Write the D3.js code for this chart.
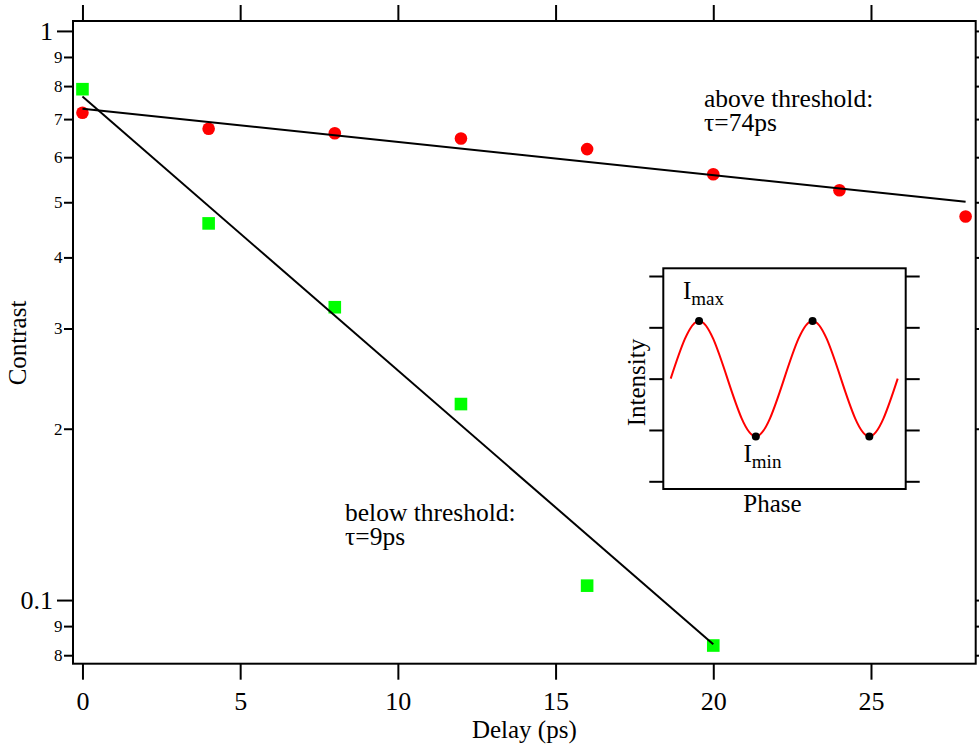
<!DOCTYPE html>
<html><head><meta charset="utf-8">
<script src="https://cdn.jsdelivr.net/npm/d3@7"></script>
<style>
body{margin:0;background:#fff}
svg{display:block}
text{font-family:"Liberation Serif","Times New Roman",Times,serif;fill:#000}
</style>
</head><body>
<svg id="chart" width="979" height="747"></svg>
<script>
// ---- data ----
const aboveDelays   = [0, 4, 8, 12, 16, 20, 24, 28];
const aboveContrast = [0.718, 0.673, 0.661, 0.647, 0.620, 0.560, 0.525, 0.472];
const belowDelays   = [0, 4, 8, 12, 16, 20];
const belowContrast = [0.790, 0.459, 0.327, 0.221, 0.106, 0.0832];
const aboveFitDelays   = [0, 28];
const aboveFitContrast = [0.730, 0.501];
const belowFitDelays   = [0, 20];
const belowFitContrast = [0.767, 0.0836];
const xTicks = [0, 5, 10, 15, 20, 25];
const yMajorTicks  = [1, 0.1];
const yMajorLabels = ["1", "0.1"];
const yMinorTicks  = [0.9, 0.8, 0.7, 0.6, 0.5, 0.4, 0.3, 0.2, 0.09, 0.08];
const yMinorLabels = ["9", "8", "7", "6", "5", "4", "3", "2", "9", "8"];
// inset schematic (quarter-period key points)
const insetPhase     = [0, 1, 2, 3, 4, 5, 6, 7, 8];
const insetIntensity = [2, 3.125, 2, 0.875, 2, 3.125, 2, 0.875, 2];
const insetMarkPhase = [1, 3, 5, 7];
const insetTicks     = [0, 1, 2, 3, 4];

// ---- layout ----
const svg = d3.select("#chart");
const L = 73, R = 975.7, T = 21, B = 663.7;
const x = d3.scaleLinear().domain([-0.3, 28.32]).range([L, R]);
const y = d3.scaleLog().domain([1.041, 0.0773]).range([T, B]);
const serif = '"Liberation Serif","Times New Roman",Times,serif';

function styleAxis(g){
  g.select(".domain").remove();
  g.selectAll(".tick line").attr("stroke", "#000").attr("stroke-width", 2);
  g.selectAll("text").attr("font-family", serif).attr("fill", "#000");
}

// left axis: major & minor
const lmaj = svg.append("g").attr("transform", `translate(${L},0)`)
  .call(d3.axisLeft(y).tickValues(yMajorTicks).tickSize(16).tickPadding(4)
        .tickFormat((d, i) => yMajorLabels[i]));
styleAxis(lmaj); lmaj.selectAll("text").attr("font-size", 26);
const lmin = svg.append("g").attr("transform", `translate(${L},0)`)
  .call(d3.axisLeft(y).tickValues(yMinorTicks).tickSize(9).tickPadding(1.5)
        .tickFormat((d, i) => yMinorLabels[i]));
styleAxis(lmin); lmin.selectAll("text").attr("font-size", 17);

// right axis ticks
[[yMajorTicks, 16], [yMinorTicks, 9]].forEach(([tv, s]) => {
  const g = svg.append("g").attr("transform", `translate(${R},0)`)
    .call(d3.axisRight(y).tickValues(tv).tickSize(s).tickFormat(""));
  styleAxis(g);
});

// bottom axis
const bx = svg.append("g").attr("transform", `translate(0,${B})`)
  .call(d3.axisBottom(x).tickValues(xTicks).tickSize(16).tickFormat(d3.format("d")));
styleAxis(bx);
bx.selectAll("text").attr("font-size", 26).attr("y", 46).attr("dy", null);

// top axis ticks
const tx = svg.append("g").attr("transform", `translate(0,${T})`)
  .call(d3.axisTop(x).tickValues(xTicks).tickSize(16).tickFormat(""));
styleAxis(tx);

// frame
svg.append("rect").attr("x", L).attr("y", T).attr("width", R - L).attr("height", B - T)
  .attr("fill", "none").attr("stroke", "#000").attr("stroke-width", 2);

// axis titles
svg.append("text").attr("x", (L + R) / 2).attr("y", 738).attr("text-anchor", "middle")
  .attr("font-size", 25).text("Delay (ps)");
svg.append("text").attr("transform", "translate(26,343) rotate(-90)")
  .attr("text-anchor", "middle").attr("font-size", 25).text("Contrast");

// markers
svg.append("g").selectAll("rect").data(belowDelays).join("rect")
  .attr("x", (d) => x(d) - 6.3).attr("y", (d, i) => y(belowContrast[i]) - 6.3)
  .attr("width", 12.6).attr("height", 12.6).attr("fill", "#00ff00");
svg.append("g").selectAll("circle").data(aboveDelays).join("circle")
  .attr("cx", (d) => x(d)).attr("cy", (d, i) => y(aboveContrast[i]))
  .attr("r", 6.3).attr("fill", "#ff0000");

// fit lines
const line = d3.line().x((d) => x(d[0])).y((d) => y(d[1]));
svg.append("path").attr("d", line(aboveFitDelays.map((d, i) => [d, aboveFitContrast[i]])))
  .attr("fill", "none").attr("stroke", "#000").attr("stroke-width", 2);
svg.append("path").attr("d", line(belowFitDelays.map((d, i) => [d, belowFitContrast[i]])))
  .attr("fill", "none").attr("stroke", "#000").attr("stroke-width", 2);

// annotations
function note(xp, yp, lines){
  const t = svg.append("text").attr("x", xp).attr("y", yp).attr("font-size", 25.5);
  lines.forEach((s, i) => t.append("tspan").attr("x", xp).attr("dy", i ? 24 : 0).text(s));
}
note(704, 107, ["above threshold:", "τ=74ps"]);
note(345, 521, ["below threshold:", "τ=9ps"]);

// ---- inset ----
const iL = 663.3, iR = 905.7, iT = 268.3, iB = 489;
const ix = d3.scaleLinear().domain([0, 8]).range([670.7, 897.7]);
const iy = d3.scaleLinear().domain([-0.15, 4.15]).range([iB, iT]);
svg.append("rect").attr("x", iL).attr("y", iT).attr("width", iR - iL).attr("height", iB - iT)
  .attr("fill", "#fff").attr("stroke", "#000").attr("stroke-width", 2);
const il = svg.append("g").attr("transform", `translate(${iL},0)`)
  .call(d3.axisLeft(iy).tickValues(insetTicks).tickSize(14).tickFormat(""));
styleAxis(il);
const ir = svg.append("g").attr("transform", `translate(${iR},0)`)
  .call(d3.axisRight(iy).tickValues(insetTicks).tickSize(14).tickFormat(""));
styleAxis(ir);
svg.append("path")
  .attr("d", d3.line().curve(d3.curveNatural).x((d) => ix(d)).y((d, i) => iy(insetIntensity[i]))(insetPhase))
  .attr("fill", "none").attr("stroke", "#ff0000").attr("stroke-width", 2);
svg.append("g").selectAll("circle").data(insetMarkPhase).join("circle")
  .attr("cx", (d) => ix(d)).attr("cy", (d) => iy(insetIntensity[insetPhase.indexOf(d)]))
  .attr("r", 4).attr("fill", "#000");
svg.append("text").attr("x", 772.5).attr("y", 511.5).attr("text-anchor", "middle")
  .attr("font-size", 25).text("Phase");
svg.append("text").attr("transform", "translate(645,382.5) rotate(-90)")
  .attr("text-anchor", "middle").attr("font-size", 25).text("Intensity");
const imax = svg.append("text").attr("x", 683).attr("y", 299).attr("font-size", 25);
imax.append("tspan").text("I");
imax.append("tspan").attr("font-size", 19).attr("dy", 6).text("max");
const imin = svg.append("text").attr("x", 743.5).attr("y", 462).attr("font-size", 25);
imin.append("tspan").text("I");
imin.append("tspan").attr("font-size", 19).attr("dy", 6).text("min");
</script>
</body></html>
